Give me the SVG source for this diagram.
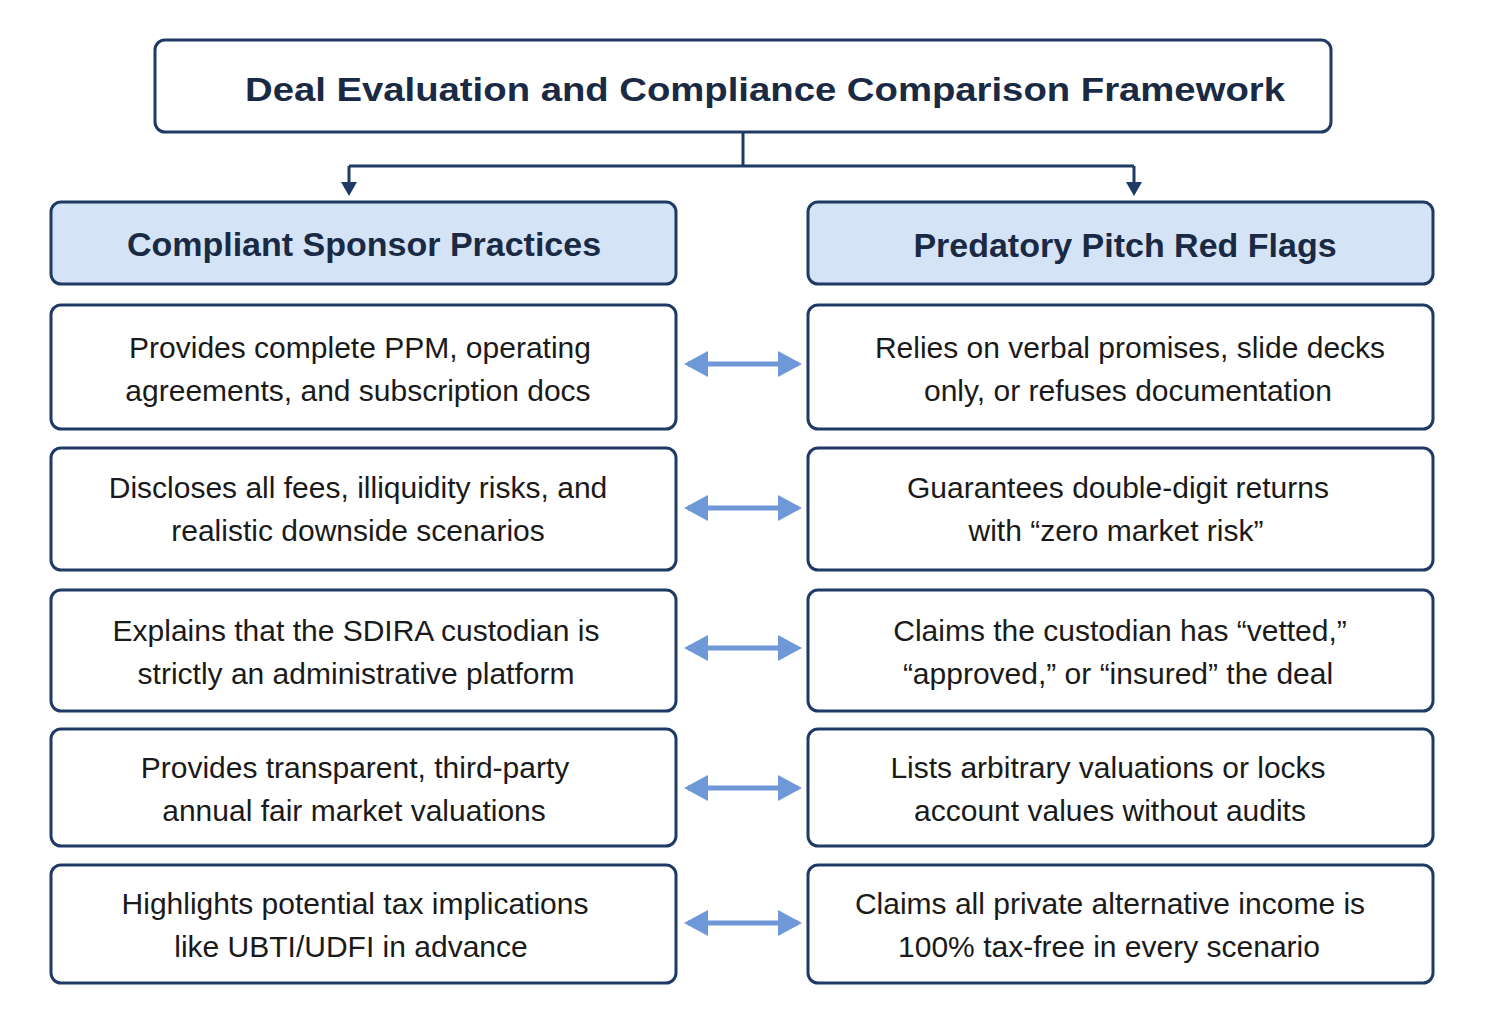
<svg xmlns="http://www.w3.org/2000/svg" width="1487" height="1023" viewBox="0 0 1487 1023">
<style>
.box{fill:#fff;stroke:#1f3a64;stroke-width:3}
.hdr{fill:#d5e3f7;stroke:#1f3a64;stroke-width:3}
.t{font-family:"Liberation Sans",Arial,sans-serif;font-size:30px;fill:#1a1a1a;text-anchor:middle}
.h{font-family:"Liberation Sans",Arial,sans-serif;font-size:34px;font-weight:bold;fill:#1a2a44;text-anchor:middle}
.con{stroke:#1f3a64;stroke-width:3;fill:none}
.dbl{stroke:#6f98d8;stroke-width:5;fill:none}
</style>
<defs>
<marker id="bh" markerWidth="24" markerHeight="26" refX="20" refY="13" orient="auto-start-reverse" markerUnits="userSpaceOnUse"><path d="M0,0 L24,13 L0,26z" fill="#6f98d8"/></marker>
</defs>
<rect width="1487" height="1023" fill="#fff"/>
<g id="title"><rect class="box" x="155" y="40" width="1176" height="92" rx="10"/><text class="h" x="765" y="101" font-size="39" textLength="1040" lengthAdjust="spacingAndGlyphs">Deal Evaluation and Compliance Comparison Framework</text></g>
<g id="connectors">
<path class="con" d="M743,132 V166 M349,166 H1134 M349,166 V186 M1134,166 V186"/>
<path d="M341,182 L349,196 L357,182z M1126,182 L1134,196 L1142,182z" fill="#1f3a64"/>
<line class="dbl" x1="688" y1="364" x2="798" y2="364" marker-start="url(#bh)" marker-end="url(#bh)"/>
<line class="dbl" x1="688" y1="508" x2="798" y2="508" marker-start="url(#bh)" marker-end="url(#bh)"/>
<line class="dbl" x1="688" y1="648" x2="798" y2="648" marker-start="url(#bh)" marker-end="url(#bh)"/>
<line class="dbl" x1="688" y1="788" x2="798" y2="788" marker-start="url(#bh)" marker-end="url(#bh)"/>
<line class="dbl" x1="688" y1="923" x2="798" y2="923" marker-start="url(#bh)" marker-end="url(#bh)"/>
</g>
<g id="hdrL"><rect class="hdr" x="51" y="202" width="625" height="82" rx="10"/><text class="h" x="364" y="256">Compliant Sponsor Practices</text></g>
<g id="hdrR"><rect class="hdr" x="808" y="202" width="625" height="82" rx="10"/><text class="h" x="1125" y="257">Predatory Pitch Red Flags</text></g>
<g id="L1"><rect class="box" x="51" y="305" width="625" height="124" rx="10"/><text class="t" x="360" y="358">Provides complete PPM, operating</text><text class="t" x="358" y="401">agreements, and subscription docs</text></g>
<g id="R1"><rect class="box" x="808" y="305" width="625" height="124" rx="10"/><text class="t" x="1130" y="358">Relies on verbal promises, slide decks</text><text class="t" x="1128" y="401">only, or refuses documentation</text></g>
<g id="L2"><rect class="box" x="51" y="448" width="625" height="122" rx="10"/><text class="t" x="358" y="498">Discloses all fees, illiquidity risks, and</text><text class="t" x="358" y="541">realistic downside scenarios</text></g>
<g id="R2"><rect class="box" x="808" y="448" width="625" height="122" rx="10"/><text class="t" x="1118" y="498">Guarantees double-digit returns</text><text class="t" x="1116" y="541">with “zero market risk”</text></g>
<g id="L3"><rect class="box" x="51" y="590" width="625" height="121" rx="10"/><text class="t" x="356" y="641">Explains that the SDIRA custodian is</text><text class="t" x="356" y="684">strictly an administrative platform</text></g>
<g id="R3"><rect class="box" x="808" y="590" width="625" height="121" rx="10"/><text class="t" x="1120" y="641">Claims the custodian has “vetted,”</text><text class="t" x="1118" y="684">“approved,” or “insured” the deal</text></g>
<g id="L4"><rect class="box" x="51" y="729" width="625" height="117" rx="10"/><text class="t" x="355" y="778">Provides transparent, third-party</text><text class="t" x="354" y="821">annual fair market valuations</text></g>
<g id="R4"><rect class="box" x="808" y="729" width="625" height="117" rx="10"/><text class="t" x="1108" y="778">Lists arbitrary valuations or locks</text><text class="t" x="1110" y="821">account values without audits</text></g>
<g id="L5"><rect class="box" x="51" y="865" width="625" height="118" rx="10"/><text class="t" x="355" y="914">Highlights potential tax implications</text><text class="t" x="351" y="957">like UBTI/UDFI in advance</text></g>
<g id="R5"><rect class="box" x="808" y="865" width="625" height="118" rx="10"/><text class="t" x="1110" y="914">Claims all private alternative income is</text><text class="t" x="1109" y="957">100% tax-free in every scenario</text></g>
</svg>
